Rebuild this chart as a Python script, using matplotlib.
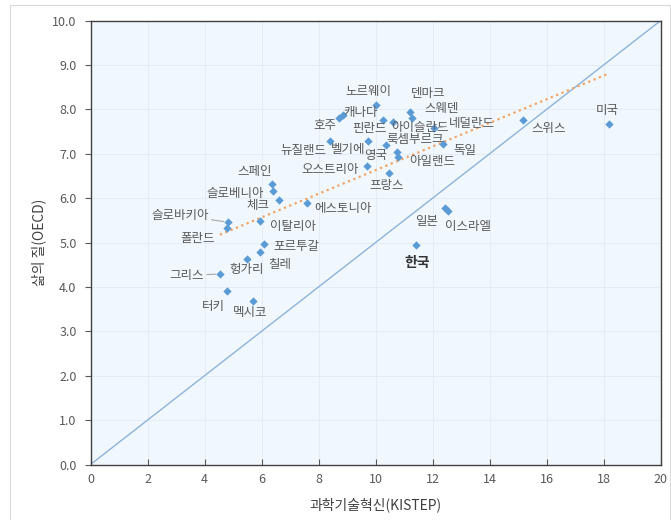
import matplotlib
matplotlib.use("Agg")
import matplotlib.pyplot as plt
import numpy as np
from matplotlib.patches import Rectangle

plt.rcParams['font.family'] = ['Noto Sans CJK KR', 'DejaVu Sans']

countries = ['미국', '스위스', '노르웨이', '덴마크', '스웨덴', '호주', '캐나다', '핀란드',
             '아이슬란드', '네덜란드', '독일', '뉴질랜드', '벨기에', '룩셈부르크', '영국',
             '아일랜드', '오스트리아', '프랑스', '스페인', '슬로베니아', '체크', '에스토니아',
             '이탈리아', '슬로바키아', '폴란드', '포르투갈', '칠레', '헝가리', '그리스',
             '터키', '멕시코', '일본', '이스라엘', '한국']
kistep = [18.19, 15.17, 10.01, 11.21, 11.29, 8.72, 8.86, 10.26,
          10.61, 12.05, 12.36, 8.40, 9.73, 10.36, 10.75,
          10.79, 9.70, 10.47, 6.37, 6.42, 6.61, 7.59,
          5.95, 4.82, 4.79, 6.10, 5.95, 5.49, 4.54,
          4.79, 5.70, 12.43, 12.54, 11.42]
oecd = [7.67, 7.76, 8.10, 7.95, 7.80, 7.81, 7.88, 7.76,
        7.72, 7.58, 7.22, 7.29, 7.29, 7.20, 7.04,
        6.93, 6.72, 6.57, 6.32, 6.16, 5.96, 5.89,
        5.49, 5.46, 5.34, 4.97, 4.79, 4.63, 4.29,
        3.91, 3.68, 5.78, 5.71, 4.95]
x_ticks = [0, 2, 4, 6, 8, 10, 12, 14, 16, 18, 20]
y_ticks = [0.0, 1.0, 2.0, 3.0, 4.0, 5.0, 6.0, 7.0, 8.0, 9.0, 10.0]

# label offsets (pixels, y up) -- layout only
offsets = {
    '미국': (-2, 14), '스위스': (26, -8), '노르웨이': (-7, 14), '덴마크': (18, 18),
    '스웨덴': (29, 10), '호주': (-14, -8), '캐나다': (18, 2), '핀란드': (-13, -8),
    '아이슬란드': (27, -6), '네덜란드': (38, 5), '독일': (22, -6), '뉴질랜드': (-27, -10),
    '벨기에': (-20, -9), '룩셈부르크': (29, 5), '영국': (-21, -3), '아일랜드': (34, -5),
    '오스트리아': (-37, -3), '프랑스': (-2, -13), '스페인': (-17, 13), '슬로베니아': (-38, -2),
    '체크': (-21, -6), '에스토니아': (36, -5), '이탈리아': (33, -6), '슬로바키아': (-48, 7),
    '폴란드': (-29, -11), '포르투갈': (32, -3), '칠레': (20, -13), '헝가리': (0, -10),
    '그리스': (-33, -1), '터키': (-14, -16), '멕시코': (-3, -11), '일본': (-18, -14),
    '이스라엘': (20, -15), '한국': (1, -18),
}
leaders = {'슬로바키아', '그리스', '네덜란드'}

fig = plt.figure(figsize=(6.71, 5.2), dpi=100)
fig.patches.append(Rectangle((10 / 671, -0.05), 660 / 671, 1.05 - 5 / 520,
                             transform=fig.transFigure, fill=False,
                             edgecolor='#d9d9d9', lw=0.8))
ax = fig.add_axes([90.5 / 671, 55.5 / 520, 570 / 671, 443.8 / 520])
ax.set_facecolor('#f0f8fe')

ax.set_xlim(0, 20)
ax.set_ylim(0, 10)
ax.set_xticks(x_ticks)
ax.set_yticks(y_ticks)
ax.set_xticklabels([str(t) for t in x_ticks])
ax.set_yticklabels([f'{t:.1f}' for t in y_ticks])
ax.grid(True, color='#e2ecf4', lw=0.6)
ax.set_axisbelow(True)
ax.tick_params(axis='x', direction='in', length=4, colors='#595959', labelsize=9, pad=6)
ax.tick_params(axis='y', direction='out', length=4, colors='#595959', labelsize=9, pad=6)
for s in ax.spines.values():
    s.set_color('#404040')
    s.set_linewidth(1.0)

# diagonal reference line
ax.plot([x_ticks[0], x_ticks[-1]], [y_ticks[0], y_ticks[-1]], color='#8db3d8', lw=1.0, zorder=2)

# linear trend
xs = np.array(kistep)
ys = np.array(oecd)
k, b = np.polyfit(xs, ys, 1)
xt = np.array([xs.min(), xs.max()])
ax.plot(xt, k * xt + b, linestyle=(0, (1, 1.6)), color='#f4a261', lw=1.6, zorder=3)

ax.scatter(xs, ys, marker='D', s=18, color='#5b9bd5', zorder=4, linewidths=0)

for name, x, y in zip(countries, kistep, oecd):
    dx, dy = offsets[name]
    kw = dict(fontsize=9, color='#595959')
    if name == '한국':
        kw = dict(fontsize=10, color='#333333', fontweight='bold')
    ap = None
    if name in leaders:
        ap = dict(arrowstyle='-', color='#a6a6a6', lw=0.8, shrinkA=12, shrinkB=3)
    ax.annotate(name, (x, y), xytext=(dx, dy), textcoords='offset pixels',
                ha='center', va='center', arrowprops=ap, zorder=5, **kw)

ax.set_xlabel('과학기술혁신(KISTEP)', fontsize=10, color='#404040', labelpad=8)
ax.set_ylabel('삶의 질(OECD)', fontsize=10, color='#404040', labelpad=4)

fig.savefig('out.png', dpi=100)
